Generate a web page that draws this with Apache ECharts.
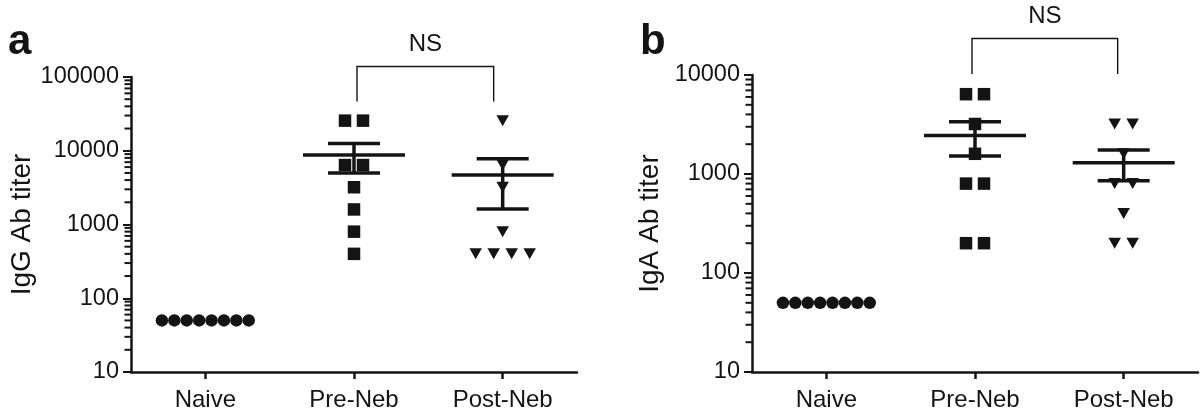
<!DOCTYPE html>
<html><head><meta charset="utf-8">
<script src="https://cdn.jsdelivr.net/npm/echarts@6/dist/echarts.min.js"></script>
<style>html,body{margin:0;padding:0;background:#fff}#c{width:1200px;height:416px}</style>
</head><body><div id="c"></div>
<script>
// ---- data ----
const categories = ['Naive', 'Pre-Neb', 'Post-Neb'];
const igG_naive = [50, 50, 50, 50, 50, 50, 50, 50];
const igG_pre   = [25600, 25600, 6400, 6400, 3200, 1600, 800, 400];
const igG_post  = [25600, 6400, 3200, 800, 400, 400, 400, 400];
const igA_naive = [50, 50, 50, 50, 50, 50, 50, 50];
const igA_pre   = [6400, 6400, 3200, 1600, 800, 800, 200, 200];
const igA_post  = [3200, 3200, 1600, 800, 800, 400, 200, 200];
const yTicksA = [10, 100, 1000, 10000, 100000];
const yTicksB = [10, 100, 1000, 10000];
const panelLabels = ['a', 'b'];
const axisTitles = ['IgG Ab titer', 'IgA Ab titer'];
const compareLabel = 'NS';

// ---- helpers ----
const INK = '#141414';
const FONT = 'Liberation Sans, Arial, Helvetica, sans-serif';

function swarm(values, cat, spacing) {
  const groups = {};
  values.forEach(v => { (groups[v] = groups[v] || []).push(v); });
  const out = [];
  Object.keys(groups).forEach(k => {
    const n = groups[k].length;
    groups[k].forEach((v, i) => {
      out.push({ value: [cat, v], symbolOffset: [(i - (n - 1) / 2) * spacing, 0] });
    });
  });
  return out;
}
function stats(values, cat) {
  const n = values.length;
  const m = values.reduce((a, b) => a + b, 0) / n;
  const sd = Math.sqrt(values.reduce((a, b) => a + (b - m) * (b - m), 0) / (n - 1));
  const se = sd / Math.sqrt(n);
  return [cat, m, m - se, m + se];
}
// minor tick values 2..9 in each decade of the axis
function minorTickValues(ticks) {
  const out = [];
  for (let i = 0; i < ticks.length - 1; i++) {
    for (let k = 2; k <= 9; k++) out.push(ticks[i] * k);
  }
  return out;
}

const panels = [
  { ticks: yTicksA, naive: igG_naive, pre: igG_pre, post: igG_post,
    grid: { left: 131, top: 77, width: 446, height: 295 },
    bracket: { top: -10.5, bot: 24.5, dl: 3, dr: -9 }, nameGap: 90 },
  { ticks: yTicksB, naive: igA_naive, pre: igA_pre, post: igA_post,
    grid: { left: 752, top: 75, width: 446, height: 297 },
    bracket: { top: -36.5, bot: -1, dl: -3, dr: -6 }, nameGap: 88 }
];

const grids = [], xAxes = [], yAxes = [], series = [], titles = [];
panels.forEach((p, gi) => {
  grids.push(p.grid);
  xAxes.push({
    type: 'category', gridIndex: gi, data: categories, boundaryGap: true,
    axisLine: { show: true, lineStyle: { color: INK, width: 2.5 } },
    axisTick: { show: true, alignWithLabel: true, length: 7, lineStyle: { color: INK, width: 2.5 } },
    axisLabel: { color: INK, fontSize: 24, fontFamily: FONT, margin: 16 },
    splitLine: { show: false }
  });
  yAxes.push({
    type: 'log', logBase: 10, gridIndex: gi,
    min: p.ticks[0], max: p.ticks[p.ticks.length - 1],
    axisLine: { show: true, lineStyle: { color: INK, width: 2.5 } },
    axisTick: { show: true, length: 8, lineStyle: { color: INK, width: 2 } },
    axisLabel: { color: INK, fontSize: 23.5, fontFamily: FONT, margin: 12,
      formatter: v => String(Math.round(v)) },
    splitLine: { show: false },
    name: axisTitles[gi], nameLocation: 'middle', nameGap: p.nameGap,
    nameTextStyle: { color: INK, fontSize: 28, fontFamily: FONT }
  });
  titles.push({ text: panelLabels[gi], left: gi === 0 ? 3 : 635, top: 16,
    textStyle: { fontSize: 42, fontWeight: 'bold', color: INK, fontFamily: FONT } });

  const common = { xAxisIndex: gi, yAxisIndex: gi, silent: true, animation: false };
  const pt = { color: INK, opacity: 1 };

  series.push(Object.assign({ type: 'scatter', symbol: 'circle', symbolSize: 12.5,
    itemStyle: pt, data: swarm(p.naive, 0, 12.4), z: 3 }, common));
  series.push(Object.assign({ type: 'scatter', symbol: 'rect', symbolSize: 12.5,
    itemStyle: pt, data: swarm(p.pre, 1, 18), z: 3 }, common));
  series.push(Object.assign({ type: 'scatter', symbol: 'triangle', symbolSize: [12.5, 11], symbolRotate: 180,
    itemStyle: pt, data: swarm(p.post, 2, 18), z: 3 }, common));

  // mean +/- SEM, plus the log-axis minor ticks (2..9 per decade) drawn through the y scale
  const minors = minorTickValues(p.ticks);
  series.push(Object.assign({ type: 'custom', clip: false, z: 6,
    data: [stats(p.pre, 1), stats(p.post, 2)],
    renderItem: (params, api) => {
      const c = api.coord([api.value(0), api.value(1)]);
      const lo = api.coord([api.value(0), api.value(2)])[1];
      const hi = api.coord([api.value(0), api.value(3)])[1];
      const st = { stroke: INK, lineWidth: 3.5 };
      const kids = [
        { type: 'line', shape: { x1: c[0] - 51, y1: c[1], x2: c[0] + 51, y2: c[1] }, style: st },
        { type: 'line', shape: { x1: c[0] - 26, y1: hi, x2: c[0] + 26, y2: hi }, style: st },
        { type: 'line', shape: { x1: c[0] - 26, y1: lo, x2: c[0] + 26, y2: lo }, style: st },
        { type: 'line', shape: { x1: c[0], y1: hi, x2: c[0], y2: lo }, style: st }
      ];
      if (params.dataIndex === 0) {
        const x0 = params.coordSys.x;
        minors.forEach(v => {
          const y = api.coord([api.value(0), v])[1];
          kids.push({ type: 'line', shape: { x1: x0 - 6.5, y1: y, x2: x0, y2: y },
            style: { stroke: INK, lineWidth: 2 } });
        });
      }
      return { type: 'group', children: kids };
    } }, common));

  // comparison bracket
  const b = p.bracket;
  series.push(Object.assign({ type: 'custom', clip: false, z: 6,
    data: [[1, 2]],
    renderItem: (params, api) => {
      const x1 = api.coord([api.value(0), p.ticks[0]])[0] + b.dl;
      const x2 = api.coord([api.value(1), p.ticks[0]])[0] + b.dr;
      const yt = params.coordSys.y + b.top, yb = params.coordSys.y + b.bot;
      return { type: 'group', children: [
        { type: 'polyline', shape: { points: [[x1, yb], [x1, yt], [x2, yt], [x2, yb]] },
          style: { stroke: INK, lineWidth: 1.4, fill: null } },
        { type: 'text', x: (x1 + x2) / 2, y: yt - 22,
          style: { text: compareLabel, fill: INK, fontSize: 24, fontFamily: FONT,
            align: 'center', verticalAlign: 'middle' } }
      ] };
    } }, common));
});

const chart = echarts.init(document.getElementById('c'), null, { renderer: 'canvas' });
chart.setOption({
  backgroundColor: '#fff', animation: false,
  title: titles, grid: grids, xAxis: xAxes, yAxis: yAxes, series: series
});
</script>
</body></html>
